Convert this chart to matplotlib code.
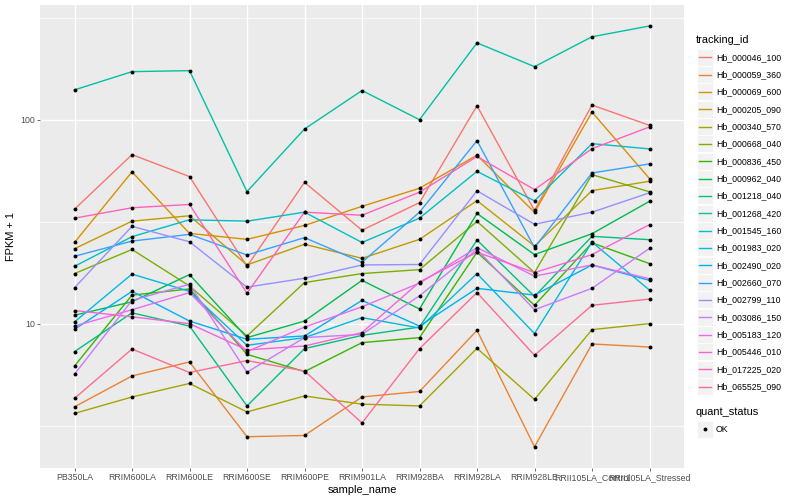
import numpy as np
import matplotlib
matplotlib.use("Agg")
import matplotlib.pyplot as plt
from matplotlib.patches import Rectangle
from matplotlib.lines import Line2D
from matplotlib.ticker import FixedLocator, NullFormatter

plt.rcParams['font.family'] = ['Liberation Sans', 'DejaVu Sans']

samples = ["PB350LA", "RRIM600LA", "RRIM600LE", "RRIM600SE", "RRIM600PE", "RRIM901LA",
           "RRIM928BA", "RRIM928LA", "RRIM928LE", "RRII105LA_Control", "RRII105LA_Stressed"]

ids = ["Hb_000046_100", "Hb_000059_360", "Hb_000069_600", "Hb_000205_090", "Hb_000340_570",
       "Hb_000668_040", "Hb_000836_450", "Hb_000962_040", "Hb_001218_040", "Hb_001268_420",
       "Hb_001545_160", "Hb_001983_020", "Hb_002490_020", "Hb_002660_070", "Hb_002799_110",
       "Hb_003086_150", "Hb_005183_120", "Hb_005446_010", "Hb_017225_020", "Hb_065525_090"]

colors = ["#F8766D", "#EA8331", "#D89000", "#C09B00", "#A3A500", "#7CAE00", "#39B600", "#00BB4E",
          "#00BF7D", "#00C1A3", "#00BFC4", "#00BAE0", "#00B0F6", "#35A2FF", "#9590FF", "#C77CFF",
          "#E76BF3", "#FA62DB", "#FF62BC", "#FF6C91"]

# FPKM + 1 per gene, in sample order
hb_000046_100 = [36.4, 67.4, 52.6, 19.1, 49.3, 28.7, 39.2, 117, 35.9, 118, 93.8]
hb_000059_360 = [3.91, 5.54, 6.49, 2.79, 2.83, 4.37, 4.65, 9.27, 2.49, 7.95, 7.68]
hb_000069_600 = [25.0, 55.5, 27.7, 25.9, 30.3, 37.6, 46.1, 67, 35.1, 109, 51.4]
hb_000205_090 = [23.3, 31.8, 33.8, 19.4, 24.5, 20.9, 25.9, 40.1, 24.0, 44.9, 49.9]
hb_000340_570 = [3.63, 4.37, 5.09, 3.69, 4.42, 4.03, 3.95, 7.57, 4.25, 9.35, 10.0]
hb_000668_040 = [17.6, 23.1, 15.3, 8.70, 15.9, 17.6, 18.4, 31.7, 17.8, 53.8, 44.3]
hb_000836_450 = [6.20, 13.8, 14.8, 7.07, 5.82, 8.07, 8.54, 22.4, 12.3, 24.9, 19.7]
hb_000962_040 = [11.0, 12.8, 17.4, 8.54, 10.3, 16.3, 11.8, 34.7, 21.8, 27.6, 39.8]
hb_001218_040 = [7.29, 11.3, 9.73, 3.95, 7.54, 8.76, 9.62, 25.7, 13.6, 26.8, 25.8]
hb_001268_420 = [140, 172, 174, 44.4, 90, 139, 100, 238, 182, 255, 288]
hb_001545_160 = [19.1, 26.7, 32.3, 31.8, 35.2, 25.0, 32.9, 55.8, 40.0, 76.3, 71.9]
hb_001983_020 = [10.2, 17.5, 14.4, 7.83, 8.54, 10.7, 9.52, 17.6, 8.94, 25.1, 14.6]
hb_002490_020 = [9.38, 14.4, 10.3, 8.38, 8.70, 13.0, 9.73, 14.9, 13.8, 19.4, 16.3]
hb_002660_070 = [21.4, 25.4, 27.4, 21.7, 26.4, 20.0, 35.2, 78.9, 23.6, 54.8, 60.7]
hb_002799_110 = [15.0, 30.0, 25.2, 15.1, 16.7, 19.4, 19.5, 44.8, 30.7, 35.2, 43.8]
hb_003086_150 = [5.65, 13.0, 15.6, 5.78, 8.54, 8.86, 13.7, 23.1, 11.7, 14.9, 23.4]
hb_005183_120 = [9.73, 11.7, 14.2, 7.29, 9.62, 12.1, 15.8, 23.6, 17.1, 19.4, 16.6]
hb_005446_010 = [11.6, 10.8, 10.0, 7.43, 7.77, 9.04, 16.0, 22.4, 17.8, 21.8, 30.6]
hb_017225_020 = [32.9, 37.0, 38.4, 14.1, 35.2, 34.0, 44.1, 66, 45.4, 72.1, 92.1]
hb_065525_090 = [4.30, 7.51, 5.76, 6.59, 5.86, 3.26, 7.54, 14.2, 7.00, 12.3, 13.2]

series = [hb_000046_100, hb_000059_360, hb_000069_600, hb_000205_090, hb_000340_570,
          hb_000668_040, hb_000836_450, hb_000962_040, hb_001218_040, hb_001268_420,
          hb_001545_160, hb_001983_020, hb_002490_020, hb_002660_070, hb_002799_110,
          hb_003086_150, hb_005183_120, hb_005446_010, hb_017225_020, hb_065525_090]

W, H = 800, 500
fig = plt.figure(figsize=(W / 100, H / 100), dpi=100)
ax = fig.add_axes([40 / W, 1 - 468 / H, 644 / W, 463 / H])
ax.set_facecolor("#EBEBEB")
for s in ax.spines.values():
    s.set_visible(False)

x = np.arange(len(samples))
for vals, c in zip(series, colors):
    ax.plot(x, vals, color=c, lw=1.0, zorder=2)
for vals in series:
    ax.plot(x, vals, "o", color="black", ms=2.8, mew=0, zorder=3)

ax.set_yscale("log")
ax.set_ylim(1.96, 365)
ax.set_xlim(-0.6, 10.6)
ax.set_xticks(x)
ax.set_xticklabels(samples)
ax.yaxis.set_major_locator(FixedLocator([10, 100]))
ax.set_yticklabels(["10", "100"])
ax.yaxis.set_minor_locator(FixedLocator([10 ** 0.5, 10 ** 1.5, 10 ** 2.5]))
ax.yaxis.set_minor_formatter(NullFormatter())
ax.tick_params(which="minor", length=0)
ax.tick_params(which="major", length=2.0, width=0.5, color="#333333",
               labelsize=6.3, labelcolor="#4D4D4D", pad=1.5)
ax.grid(which="major", color="white", lw=1.0, zorder=0)
ax.grid(which="minor", axis="y", color="white", lw=0.5, zorder=0)
ax.set_axisbelow(True)
ax.set_xlabel("sample_name", fontsize=7.9, labelpad=2)
ax.set_ylabel("FPKM + 1", fontsize=7.9, labelpad=3)


def fx(px):
    return px / W


def fy(py):
    return 1 - py / H


# legend: tracking_id
fig.text(fx(696), fy(40), "tracking_id", fontsize=7.9, va="center", ha="left")
for i, (name, c) in enumerate(zip(ids, colors)):
    yc = 57.3 + 17.33 * i
    fig.add_artist(Rectangle((fx(696.5), fy(yc + 8.5)), 16.5 / W, 17 / H,
                             transform=fig.transFigure, facecolor="#F2F2F2",
                             edgecolor="white", lw=0.6))
    fig.add_artist(Line2D([fx(698.5), fx(711)], [fy(yc), fy(yc)],
                          transform=fig.transFigure, color=c, lw=1.0))
    fig.text(fx(716), fy(yc), name, fontsize=6.3, va="center", ha="left")

# legend: quant_status
fig.text(fx(696), fy(412), "quant_status", fontsize=7.9, va="center", ha="left")
fig.add_artist(Rectangle((fx(696.5), fy(429.3 + 8.5)), 16.5 / W, 17 / H,
                         transform=fig.transFigure, facecolor="#F2F2F2",
                         edgecolor="white", lw=0.6))
fig.add_artist(Line2D([fx(704.7)], [fy(429.3)], transform=fig.transFigure,
                      marker="o", color="black", ms=2.8, mew=0))
fig.text(fx(716), fy(429.3), "OK", fontsize=6.3, va="center", ha="left")

fig.savefig("out.png", dpi=100)
